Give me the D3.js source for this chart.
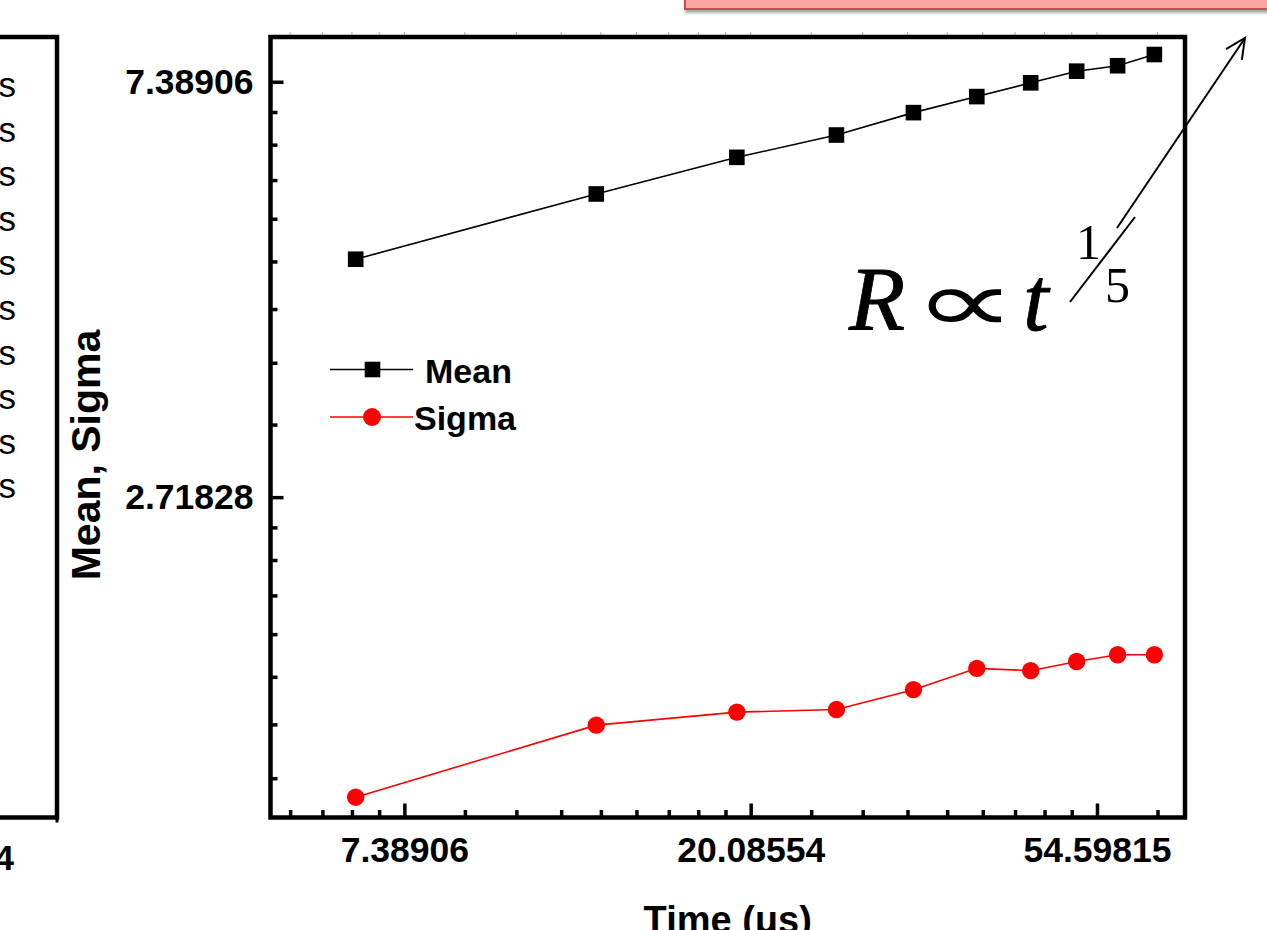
<!DOCTYPE html>
<html>
<head>
<meta charset="utf-8">
<script src="https://cdn.jsdelivr.net/npm/d3@7/dist/d3.min.js"></script>
<style>
  html, body { margin: 0; padding: 0; background: #fff; overflow: hidden; }
  svg { display: block; }
  .tick text { font-family: "Liberation Sans", Arial, sans-serif; font-weight: bold; font-size: 35.5px; fill: #000; }
</style>
</head>
<body>
<script>
// Growth of the mean radius and its spread with time (log–log, base e)
const times = [6.42, 12.86, 19.30, 25.73, 32.14, 38.59, 45.09, 51.49, 57.95, 64.44];
const meanValues = [4.82, 5.64, 6.16, 6.50, 6.86, 7.13, 7.37, 7.58, 7.68, 7.89];
const sigmaValues = [1.32, 1.57, 1.62, 1.63, 1.71, 1.80, 1.79, 1.83, 1.86, 1.86];

const xMajorTicks = [Math.E ** 2, Math.E ** 3, Math.E ** 4];
const xTickLabels = ["7.38906", "20.08554", "54.59815"];
const yMajorTicks = [Math.E, Math.E ** 2];
const yTickLabels = ["2.71828", "7.38906"];

const seriesNames = ["Mean", "Sigma"];
// legend tails of the neighbouring panel (distribution at each time)
const panelLabels = ["6.4 \u03bcs", "12.9 \u03bcs", "19.3 \u03bcs", "25.7 \u03bcs", "32.1 \u03bcs",
                     "38.6 \u03bcs", "45.1 \u03bcs", "51.5 \u03bcs", "58.0 \u03bcs", "64.4 \u03bcs"];

const W = 1267, H = 930;
const plot = { left: 270.5, right: 1185, top: 37, bottom: 817.5 };
const sans = '"Liberation Sans", Arial, sans-serif';
const serif = '"Liberation Serif", "Times New Roman", serif';

const svg = d3.select("body").append("svg").attr("width", W).attr("height", H);

const x = d3.scaleLog().base(Math.E).domain([5.02, 70.4]).range([plot.left, plot.right]);
const y = d3.scaleLog().base(Math.E).domain([1.257, 8.23]).range([plot.bottom, plot.top]);

// minor ticks: eight linear subdivisions between successive powers of e
function minorTicks(scale) {
  const [lo, hi] = scale.domain();
  const out = [];
  for (let n = 0; n < 6; n++) {
    const a = Math.E ** n, b = Math.E ** (n + 1);
    for (let k = 1; k <= 8; k++) {
      const v = a + k * (b - a) / 9;
      if (v > lo && v < hi) out.push(v);
    }
  }
  return out;
}

// ----- pink title box cut by the top edge -----
const defs = svg.append("defs");
const sh = defs.append("filter").attr("id", "shadow").attr("x", "-10%").attr("y", "-50%").attr("width", "120%").attr("height", "200%");
sh.append("feDropShadow").attr("dx", 1).attr("dy", 3).attr("stdDeviation", 1.5).attr("flood-color", "#000").attr("flood-opacity", 0.35);
svg.append("rect")
  .attr("x", 685).attr("y", -60).attr("width", 700).attr("height", 69)
  .attr("fill", "#FBA6A5").attr("stroke", "#C4504D").attr("stroke-width", 2)
  .attr("filter", "url(#shadow)");

// ----- neighbouring panel (right edge only) -----
const left = svg.append("g");
left.append("path")
  .attr("d", `M0,${plot.top} H57 V${plot.bottom} H0`)
  .attr("fill", "none").attr("stroke", "#000").attr("stroke-width", 4.5);
left.append("line").attr("x1", 57).attr("x2", 57).attr("y1", plot.bottom).attr("y2", plot.bottom + 5)
  .attr("stroke", "#000").attr("stroke-width", 3);
left.selectAll("text.pl").data(panelLabels).join("text")
  .attr("class", "pl")
  .attr("x", 16).attr("y", (d, i) => 97 + i * 44.6)
  .attr("text-anchor", "end")
  .attr("font-family", sans).attr("font-size", 35).attr("fill", "#000")
  .text(d => d);
left.append("text")
  .attr("x", 14).attr("y", 870).attr("text-anchor", "end")
  .attr("font-family", sans).attr("font-weight", "bold").attr("font-size", 35)
  .text("1E-4");

// ----- axes -----
const gx = svg.append("g").attr("transform", `translate(0,${plot.bottom})`);
gx.call(d3.axisBottom(x).tickValues(minorTicks(x)).tickFormat("").tickSizeInner(-7.5).tickSizeOuter(0))
  .call(g => g.select(".domain").remove())
  .call(g => g.selectAll(".tick line").attr("stroke-width", 3.5));
const gxMajor = svg.append("g").attr("transform", `translate(0,${plot.bottom})`);
gxMajor.call(d3.axisBottom(x).tickValues(xMajorTicks).tickFormat((d, i) => xTickLabels[i])
    .tickSizeInner(-14).tickSizeOuter(0).tickPadding(19))
  .call(g => g.select(".domain").remove())
  .call(g => g.selectAll(".tick line").attr("stroke-width", 3.5));

// faint marks along the top edge
svg.append("g").selectAll("line").data(minorTicks(x).concat(xMajorTicks)).join("line")
  .attr("x1", d => x(d)).attr("x2", d => x(d))
  .attr("y1", plot.top - 5).attr("y2", plot.top)
  .attr("stroke", "#aaa").attr("stroke-width", 1);

const gy = svg.append("g").attr("transform", `translate(${plot.left},0)`);
gy.call(d3.axisLeft(y).tickValues(minorTicks(y)).tickFormat("").tickSizeInner(-7).tickSizeOuter(0))
  .call(g => g.select(".domain").remove())
  .call(g => g.selectAll(".tick line").attr("stroke-width", 3.5));
const gyMajor = svg.append("g").attr("transform", `translate(${plot.left},0)`);
gyMajor.call(d3.axisLeft(y).tickValues(yMajorTicks).tickFormat((d, i) => yTickLabels[i])
    .tickSizeInner(-13).tickSizeOuter(0).tickPadding(17))
  .call(g => g.select(".domain").remove())
  .call(g => g.selectAll(".tick line").attr("stroke-width", 3.5));

// frame
svg.append("rect")
  .attr("x", plot.left).attr("y", plot.top)
  .attr("width", plot.right - plot.left).attr("height", plot.bottom - plot.top)
  .attr("fill", "none").attr("stroke", "#000").attr("stroke-width", 4.5);

// axis titles
svg.append("text")
  .attr("transform", "translate(100,455) rotate(-90)")
  .attr("text-anchor", "middle")
  .attr("font-family", sans).attr("font-weight", "bold").attr("font-size", 41)
  .text("Mean, Sigma");
svg.append("text")
  .attr("x", (plot.left + plot.right) / 2).attr("y", 933)
  .attr("text-anchor", "middle")
  .attr("font-family", sans).attr("font-weight", "bold").attr("font-size", 38)
  .text("Time (\u03bcs)");

// ----- series -----
const line = d3.line().x(d => x(d[0])).y(d => y(d[1]));
const meanData = times.map((t, i) => [t, meanValues[i]]);
const sigmaData = times.map((t, i) => [t, sigmaValues[i]]);

svg.append("path").datum(meanData).attr("d", line)
  .attr("fill", "none").attr("stroke", "#000").attr("stroke-width", 1.6);
svg.append("g").selectAll("rect").data(meanData).join("rect")
  .attr("x", d => x(d[0]) - 7.8).attr("y", d => y(d[1]) - 7.8)
  .attr("width", 15.6).attr("height", 15.6).attr("fill", "#000");

svg.append("path").datum(sigmaData).attr("d", line)
  .attr("fill", "none").attr("stroke", "#FF0000").attr("stroke-width", 1.6);
svg.append("g").selectAll("circle").data(sigmaData).join("circle")
  .attr("cx", d => x(d[0])).attr("cy", d => y(d[1])).attr("r", 8.7).attr("fill", "#FF0000");

// ----- legend -----
const legend = svg.append("g");
legend.append("line").attr("x1", 330).attr("x2", 413).attr("y1", 369.5).attr("y2", 369.5)
  .attr("stroke", "#000").attr("stroke-width", 1.6);
legend.append("rect").attr("x", 372.5 - 7.8).attr("y", 369.5 - 7.8).attr("width", 15.6).attr("height", 15.6).attr("fill", "#000");
legend.append("text").attr("x", 425).attr("y", 383)
  .attr("font-family", sans).attr("font-weight", "bold").attr("font-size", 34).text(seriesNames[0]);
legend.append("line").attr("x1", 330).attr("x2", 413).attr("y1", 417).attr("y2", 417)
  .attr("stroke", "#FF0000").attr("stroke-width", 1.6);
legend.append("circle").attr("cx", 372).attr("cy", 417).attr("r", 9).attr("fill", "#FF0000");
legend.append("text").attr("x", 414).attr("y", 430)
  .attr("font-family", sans).attr("font-weight", "bold").attr("font-size", 34).text(seriesNames[1]);

// ----- power-law annotation: R ∝ t^(1/5) -----
const ann = svg.append("g").attr("fill", "#000");
ann.append("text").attr("x", 849).attr("y", 330)
  .attr("font-family", serif).attr("font-style", "italic").attr("font-size", 92)
  .attr("stroke", "#000").attr("stroke-width", 0.8).text("R");
ann.append("text")
  .attr("transform", "translate(913,332) scale(1.65,1)")
  .attr("font-family", serif).attr("font-size", 88).text("\u221d");
ann.append("text").attr("x", 1023).attr("y", 330)
  .attr("font-family", serif).attr("font-style", "italic").attr("font-size", 92)
  .attr("stroke", "#000").attr("stroke-width", 0.8).text("t");
ann.append("text").attr("x", 1076).attr("y", 259)
  .attr("font-family", serif).attr("font-size", 50).text("1");
ann.append("text").attr("x", 1105).attr("y", 302)
  .attr("font-family", serif).attr("font-size", 50).text("5");
ann.append("line").attr("x1", 1070).attr("y1", 302).attr("x2", 1135).attr("y2", 217)
  .attr("stroke", "#000").attr("stroke-width", 2);

// arrow pointing to the upper right
const a0 = [1117, 228], a1 = [1245, 38];
ann.append("line").attr("x1", a0[0]).attr("y1", a0[1]).attr("x2", a1[0]).attr("y2", a1[1])
  .attr("stroke", "#000").attr("stroke-width", 2);
const ang = Math.atan2(a0[1] - a1[1], a0[0] - a1[0]);
const head = [ang - 0.45, ang + 0.45].map(t => [a1[0] + 22 * Math.cos(t), a1[1] + 22 * Math.sin(t)]);
ann.append("path")
  .attr("d", `M${head[0][0]},${head[0][1]} L${a1[0]},${a1[1]} L${head[1][0]},${head[1][1]}`)
  .attr("fill", "none").attr("stroke", "#000").attr("stroke-width", 2);
</script>
</body>
</html>
